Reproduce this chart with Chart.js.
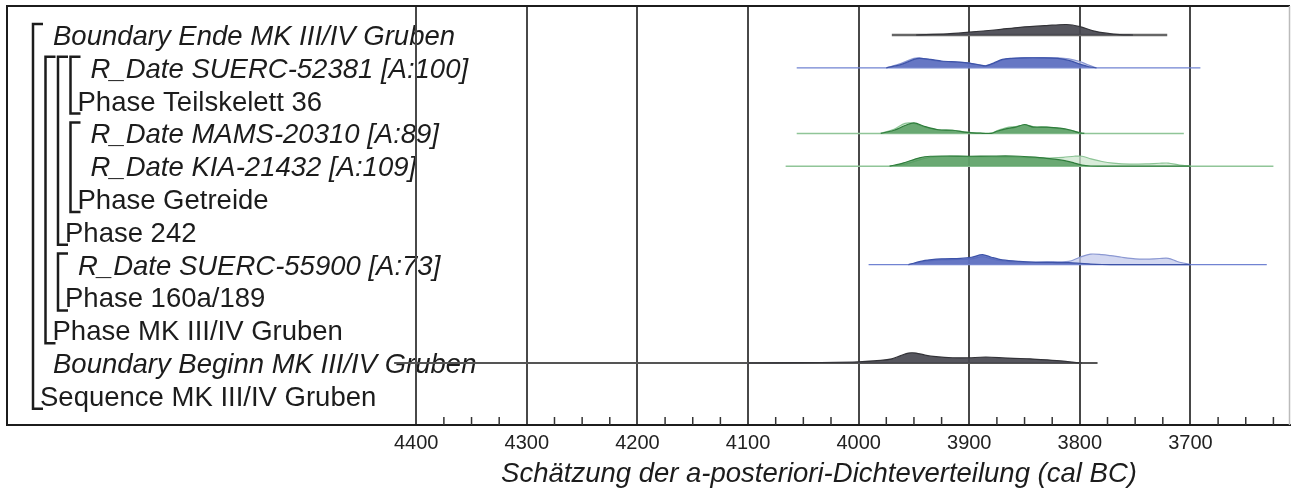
<!DOCTYPE html>
<html>
<head>
<meta charset="utf-8">
<script src="https://cdn.jsdelivr.net/npm/chart.js@4"></script>
<style>
  body { margin: 0; background: #fff; }
  canvas { display: block; }
</style>
</head>
<body>
<canvas id="chart" width="1291" height="493"></canvas>
<script>
// rows of the OxCal model, top to bottom
const rowLabels = [
    "Boundary Ende MK III/IV Gruben",
    "R_Date SUERC-52381 [A:100]",
    "Phase Teilskelett 36",
    "R_Date MAMS-20310 [A:89]",
    "R_Date KIA-21432 [A:109]",
    "Phase Getreide",
    "Phase 242",
    "R_Date SUERC-55900 [A:73]",
    "Phase 160a/189",
    "Phase MK III/IV Gruben",
    "Boundary Beginn MK III/IV Gruben",
    "Sequence MK III/IV Gruben"
];
const rowItalic = [true, true, false, true, true, false, false, true, false, false, true, false];
const rowDepth = [0, 3, 3, 3, 3, 3, 2, 2, 2, 1, 0, 0];
// [depth, first row, last row]
const brackets = [[0, 0, 11], [1, 1, 9], [2, 1, 6], [3, 1, 2], [3, 3, 5], [2, 7, 8]];

const tickYears = [];
for (let v = 3625; v <= 4400; v += 25) tickYears.push(v);

// Boundary Ende (row 0)
const endeRange = [3970, 3721];
const endeYears = [3948, 3920, 3900, 3875, 3854, 3830, 3812, 3800, 3788, 3776, 3764, 3752];
const endePost  = [0, 0.1, 0.27, 0.5, 0.73, 0.9, 1.0, 0.8, 0.4, 0.17, 0.03, 0];

// R_Date SUERC-52381 (row 1)
const s52381Range = [4056, 3691];
const s52381Years = [3975, 3962, 3950, 3945, 3935, 3925, 3910, 3900, 3890, 3885, 3878, 3870, 3862, 3850, 3835, 3820, 3810, 3800, 3792, 3785];
const s52381Post  = [0, 0.3, 0.8, 0.9, 0.8, 0.65, 0.55, 0.45, 0.25, 0.18, 0.45, 0.8, 0.9, 0.95, 0.95, 0.9, 0.7, 0.35, 0.1, 0];
const s52381Prior = [0, 0.4, 0.9, 0.95, 0.75, 0.6, 0.55, 0.45, 0.25, 0.2, 0.4, 0.75, 0.88, 0.95, 0.97, 0.95, 0.85, 0.6, 0.25, 0];

// R_Date MAMS-20310 (row 3)
const mamsRange = [4056, 3706];
const mamsYears = [3980, 3968, 3958, 3950, 3940, 3928, 3915, 3902, 3890, 3880, 3875, 3866, 3858, 3850, 3842, 3830, 3818, 3808, 3800, 3796];
const mamsPost  = [0, 0.3, 0.75, 1.0, 0.65, 0.35, 0.3, 0.1, 0.02, 0, 0.2, 0.45, 0.6, 0.85, 0.6, 0.6, 0.5, 0.3, 0.05, 0];
const mamsPrior = [0, 0.4, 0.95, 0.95, 0.6, 0.35, 0.3, 0.12, 0.02, 0.02, 0.25, 0.55, 0.65, 0.8, 0.65, 0.6, 0.45, 0.3, 0.05, 0];

// R_Date KIA-21432 (row 4)
const kiaRange = [4066, 3625];
const kiaYears = [3972, 3960, 3945, 3935, 3920, 3900, 3880, 3860, 3845, 3830, 3815, 3805, 3798, 3790, 3780, 3770, 3755, 3740, 3728, 3720, 3710, 3700];
const kiaPost  = [0, 0.3, 0.8, 0.95, 0.97, 0.95, 0.97, 0.97, 0.88, 0.75, 0.55, 0.3, 0.1, 0.02, 0, 0, 0, 0, 0, 0, 0, 0];
const kiaPrior = [0, 0.15, 0.6, 0.85, 0.95, 0.92, 0.9, 0.88, 0.82, 0.78, 0.85, 0.95, 0.95, 0.7, 0.45, 0.3, 0.2, 0.22, 0.28, 0.3, 0.1, 0];

// R_Date SUERC-55900 (row 7)
const s55900Range = [3991, 3631];
const s55900Years = [3955, 3940, 3925, 3908, 3898, 3888, 3880, 3870, 3855, 3840, 3825, 3810, 3800, 3790, 3780, 3772, 3762, 3750, 3740, 3728, 3720, 3712, 3700];
const s55900Post  = [0, 0.4, 0.55, 0.6, 0.7, 0.95, 0.7, 0.45, 0.3, 0.22, 0.2, 0.18, 0.12, 0.05, 0.01, 0, 0, 0, 0, 0, 0, 0, 0];
const s55900Prior = [0, 0.3, 0.45, 0.5, 0.55, 0.75, 0.55, 0.35, 0.25, 0.25, 0.28, 0.3, 0.7, 1.0, 0.95, 0.85, 0.7, 0.55, 0.52, 0.58, 0.6, 0.3, 0];

// Boundary Beginn (row 10)
const beginnRange = [4420, 3784];
const beginnYears = [4100, 4050, 4000, 3980, 3970, 3962, 3955, 3948, 3940, 3930, 3915, 3900, 3890, 3880, 3870, 3860, 3845, 3830, 3815, 3805, 3798];
const beginnPost  = [0, 0.03, 0.12, 0.25, 0.4, 0.7, 0.95, 0.95, 0.75, 0.6, 0.5, 0.5, 0.55, 0.55, 0.5, 0.45, 0.4, 0.3, 0.18, 0.06, 0];

const peak = 0.32;  // height of a density of 1, in rows

const gray  = { line: '#666', fill: 'rgba(72,72,80,0.92)', edge: '#333338' };
const blue  = { line: '#7183d2', fill: 'rgba(78,98,186,0.82)', edge: '#3d53a8', pfill: 'rgba(196,203,236,0.75)', pedge: '#8b98d2' };
const green = { line: '#90c598', fill: 'rgba(74,150,86,0.78)', edge: '#2f7d3c', pfill: 'rgba(204,230,206,0.75)', pedge: '#8cc495' };

function rangeLine(row, range, color, width) {
    return {
        data: range.map(v => ({ x: v, y: row })),
        borderColor: color, borderWidth: width, pointRadius: 0, fill: false, order: 3
    };
}

function density(row, years, dens, fillColor, edgeColor, order) {
    return {
        data: years.map((v, k) => ({ x: v, y: row - dens[k] * peak })),
        borderColor: edgeColor, backgroundColor: fillColor, borderWidth: 1.2,
        fill: { value: row }, pointRadius: 0, tension: 0.3, order: order
    };
}

const datasets = [
    rangeLine(0, endeRange, gray.line, 2.5),
    density(0, endeYears, endePost, gray.fill, gray.edge, 1),

    rangeLine(1, s52381Range, blue.line, 1.2),
    density(1, s52381Years, s52381Prior, blue.pfill, blue.pedge, 2),
    density(1, s52381Years, s52381Post, blue.fill, blue.edge, 1),

    rangeLine(3, mamsRange, green.line, 1.5),
    density(3, mamsYears, mamsPrior, green.pfill, green.pedge, 2),
    density(3, mamsYears, mamsPost, green.fill, green.edge, 1),

    rangeLine(4, kiaRange, green.line, 1.5),
    density(4, kiaYears, kiaPrior, green.pfill, green.pedge, 2),
    density(4, kiaYears, kiaPost, green.fill, green.edge, 1),

    rangeLine(7, s55900Range, blue.line, 1.2),
    density(7, s55900Years, s55900Prior, blue.pfill, blue.pedge, 2),
    density(7, s55900Years, s55900Post, blue.fill, blue.edge, 1),

    rangeLine(10, beginnRange, '#555', 2),
    density(10, beginnYears, beginnPost, gray.fill, gray.edge, 1)
];

const FONT = '"Liberation Sans", Arial, sans-serif';

// labels, brackets and frame in the OxCal style
const oxcalPlugin = {
    id: 'oxcal',
    beforeDraw(chart) {
        const { ctx, scales: { y } } = chart;
        ctx.save();
        ctx.fillStyle = '#fff';
        ctx.fillRect(0, 0, chart.width, chart.height);
        ctx.strokeStyle = '#1c1c1c';
        ctx.lineWidth = 2.5;
        brackets.forEach(([d, r0, r1]) => {
            const x = 33 + 12.5 * d;
            const y0 = y.getPixelForValue(r0) - 11;
            const y1 = y.getPixelForValue(r1) + 13;
            ctx.beginPath();
            ctx.moveTo(x + 10, y0);
            ctx.lineTo(x, y0);
            ctx.lineTo(x, y1);
            ctx.lineTo(x + 10, y1);
            ctx.stroke();
        });
        ctx.fillStyle = '#1c1c1c';
        ctx.textBaseline = 'alphabetic';
        rowLabels.forEach((t, i) => {
            ctx.font = (rowItalic[i] ? 'italic ' : '') + '27.5px ' + FONT;
            ctx.fillText(t, 33 + 12.5 * rowDepth[i] + (rowItalic[i] ? 20 : 7), y.getPixelForValue(i) + 10);
        });
        ctx.restore();
    },
    afterDraw(chart) {
        const { ctx, chartArea: a, scales: { x } } = chart;
        ctx.save();
        // minor ticks pointing inward
        ctx.strokeStyle = '#333';
        ctx.lineWidth = 1.5;
        x.ticks.forEach(t => {
            if (t.value % 100 === 0) return;
            const px = x.getPixelForValue(t.value);
            ctx.beginPath();
            ctx.moveTo(px, a.bottom);
            ctx.lineTo(px, a.bottom - 8);
            ctx.stroke();
        });
        // frame
        ctx.strokeStyle = '#1c1c1c';
        ctx.lineWidth = 2;
        ctx.beginPath();
        ctx.moveTo(a.left, a.bottom);
        ctx.lineTo(a.left, a.top);
        ctx.lineTo(a.right, a.top);
        ctx.stroke();
        ctx.strokeStyle = '#bbb';
        ctx.lineWidth = 1.5;
        ctx.beginPath();
        ctx.moveTo(a.right - 0.5, a.top);
        ctx.lineTo(a.right - 0.5, a.bottom);
        ctx.stroke();
        // axis title
        ctx.fillStyle = '#1c1c1c';
        ctx.font = 'italic 27.5px ' + FONT;
        ctx.textAlign = 'center';
        ctx.fillText('Schätzung der a-posteriori-Dichteverteilung (cal BC)', 819, 482);
        ctx.restore();
    }
};

new Chart('chart', {
    type: 'line',
    data: { datasets: datasets },
    plugins: [oxcalPlugin],
    options: {
        responsive: false,
        animation: false,
        layout: { padding: { top: 6, left: 7, right: 1, bottom: 0 } },
        plugins: { legend: { display: false }, tooltip: { enabled: false } },
        scales: {
            x: {
                type: 'linear',
                reverse: true,
                min: 3610,
                max: 4770,
                afterBuildTicks: axis => { axis.ticks = tickYears.map(v => ({ value: v })); },
                afterFit: axis => { axis.height = 68; },
                ticks: {
                    autoSkip: false,
                    maxRotation: 0,
                    padding: 6,
                    color: '#222',
                    font: { family: FONT, size: 20 },
                    callback: v => (v % 100 === 0 ? String(v) : '')
                },
                grid: {
                    drawTicks: false,
                    lineWidth: 2,
                    color: c => (c.tick && c.tick.value % 100 === 0 ? '#484848' : 'rgba(0,0,0,0)')
                },
                border: { display: true, color: '#1c1c1c', width: 2 }
            },
            y: {
                type: 'linear',
                display: false,
                reverse: true,
                min: -0.884,
                max: 11.89
            }
        }
    }
});
</script>
</body>
</html>
